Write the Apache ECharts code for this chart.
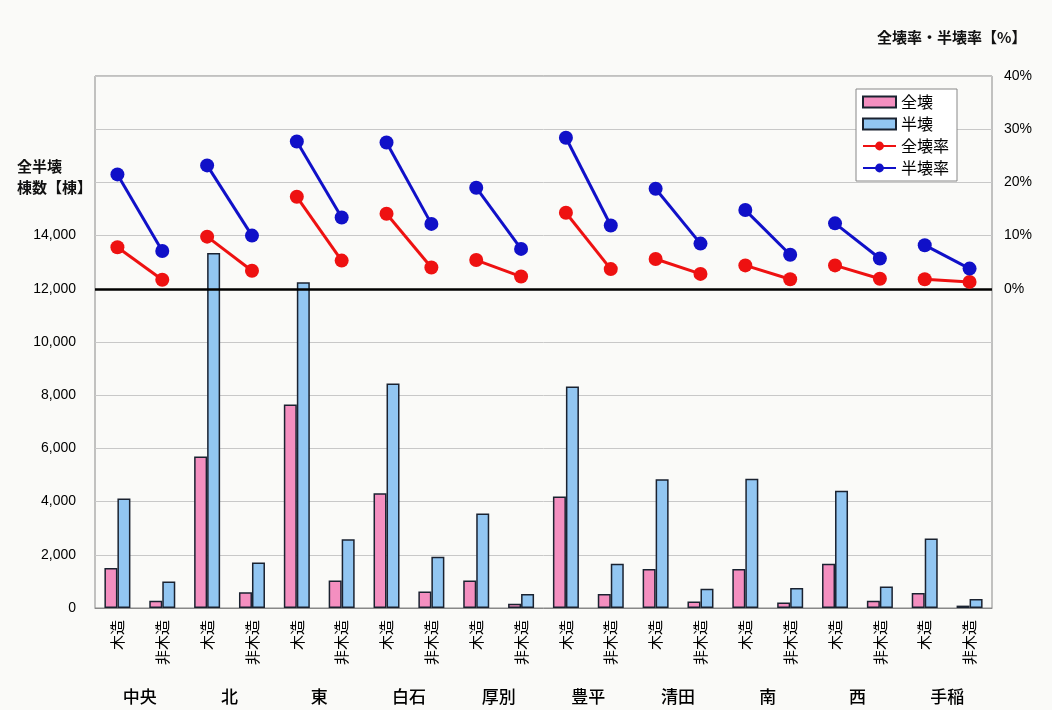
<!DOCTYPE html>
<html>
<head>
<meta charset="utf-8">
<script src="https://cdn.jsdelivr.net/npm/echarts@6/dist/echarts.min.js"></script>
<style>
html,body{margin:0;padding:0;background:#fafaf8;}
#chart{width:1052px;height:710px;}
</style>
</head>
<body>
<div id="chart"></div>
<script>
// ---- data ----
const wards = ['中央','北','東','白石','厚別','豊平','清田','南','西','手稲'];
const types = ['木造','非木造'];
const categories = [];
wards.forEach(() => types.forEach(t => categories.push(t)));

// counts [棟] : 木造, 非木造 per ward
const zenkai   = [1500, 270, 5700, 590, 7650, 1030, 4310, 620, 1030, 160, 4190, 530, 1470, 240, 1470, 210, 1660, 270, 560, 90];
const hankai   = [4120, 1000, 13350, 1710, 12250, 2580, 8440, 1930, 3550, 530, 8330, 1660, 4840, 720, 4860, 750, 4410, 810, 2610, 340];
// rates [%] : 木造, 非木造 per ward
const zenkaiRate = [7.8, 1.7, 9.8, 3.4, 17.3, 5.3, 14.1, 4.0, 5.4, 2.3, 14.3, 3.7, 5.6, 2.8, 4.4, 1.8, 4.4, 1.9, 1.8, 1.3];
const hankaiRate = [21.5, 7.1, 23.2, 10.0, 27.7, 13.4, 27.5, 12.2, 19.0, 7.5, 28.4, 11.9, 18.8, 8.5, 14.8, 6.4, 12.3, 5.7, 8.2, 3.8];

const leftTicksMaxShown = 14000;
const font = 'Arial, "Liberation Sans", "Noto Sans CJK JP", sans-serif';
const jp = '"Noto Sans CJK JP", sans-serif';

function segSeries(name, values, color) {
  const out = [];
  for (let w = 0; w < wards.length; w++) {
    const d = categories.map(() => null);
    d[2*w] = values[2*w];
    d[2*w+1] = values[2*w+1];
    out.push({
      name: name, type: 'line', yAxisIndex: 1, xAxisIndex: 0,
      data: d, connectNulls: false,
      symbol: 'circle', symbolSize: 14,
      lineStyle: {color: color, width: 3},
      itemStyle: {color: color},
      z: 5
    });
  }
  return out;
}

const chart = echarts.init(document.getElementById('chart'));
const option = {
  backgroundColor: '#fafaf8',
  animation: false,
  grid: {left: 95, right: 60, top: 76, bottom: 102, show: true, borderColor: '#888', borderWidth: 1, backgroundColor: 'transparent'},
  legend: {
    orient: 'vertical', left: 856, top: 89,
    backgroundColor: '#fff', borderColor: '#888', borderWidth: 1,
    padding: [5, 8, 5, 6], itemGap: 6, itemWidth: 33, itemHeight: 11,
    textStyle: {fontFamily: jp, fontSize: 16, color: '#000'},
    data: [
      {name: '全壊', icon: 'rect'},
      {name: '半壊', icon: 'rect'},
      {name: '全壊率'},
      {name: '半壊率'}
    ]
  },
  graphic: [
    {type: 'text', left: 877, top: 30, style: {text: '全壊率・半壊率【%】', font: 'bold 15px ' + jp, fill: '#111'}},
    {type: 'text', left: 17, top: 156, style: {text: '全半壊\n棟数【棟】', font: 'bold 15px ' + jp, fill: '#111', lineHeight: 21}}
  ],
  xAxis: [
    {
      type: 'category', data: categories, gridIndex: 0, position: 'bottom',
      axisLine: {lineStyle: {color: '#888'}}, axisTick: {show: false},
      axisLabel: {rotate: 90, interval: 0, fontFamily: jp, fontSize: 15, color: '#000', margin: 12}
    },
    {
      type: 'category', data: wards, gridIndex: 0, position: 'bottom', offset: 80,
      axisLine: {show: false}, axisTick: {show: false},
      axisLabel: {interval: 0, fontFamily: jp, fontSize: 17, fontWeight: 500, color: '#000', margin: 0}
    }
  ],
  yAxis: [
    {
      type: 'value', min: 0, max: 20000, interval: 2000, position: 'left',
      axisLine: {show: false}, axisTick: {show: false},
      splitLine: {lineStyle: {color: '#c8c8c8', width: 1}},
      axisLabel: {fontFamily: font, fontSize: 14, color: '#000', margin: 19,
        formatter: v => v > leftTicksMaxShown ? '' : v.toLocaleString('en-US')}
    },
    {
      type: 'value', min: -60, max: 40, interval: 10, position: 'right',
      axisLine: {show: false}, axisTick: {show: false}, splitLine: {show: false},
      axisLabel: {fontFamily: font, fontSize: 14, color: '#000', margin: 12,
        formatter: v => v < 0 ? '' : v + '%'}
    }
  ],
  series: [
    {
      name: '全壊', type: 'bar', data: zenkai, barWidth: 13, barGap: '0%',
      itemStyle: {color: '#f48fc0', borderColor: '#1a2230', borderWidth: 1.5},
      markLine: {silent: true, symbol: 'none', label: {show: false},
        lineStyle: {color: '#000', width: 2.5, type: 'solid'},
        data: [{yAxis: 12000}]}
    },
    {
      name: '半壊', type: 'bar', data: hankai, barWidth: 13,
      itemStyle: {color: '#92c6f2', borderColor: '#1a2230', borderWidth: 1.5}
    },
    ...segSeries('全壊率', zenkaiRate, '#ee1111'),
    ...segSeries('半壊率', hankaiRate, '#1010c8')
  ]
};
chart.setOption(option);
</script>
</body>
</html>
